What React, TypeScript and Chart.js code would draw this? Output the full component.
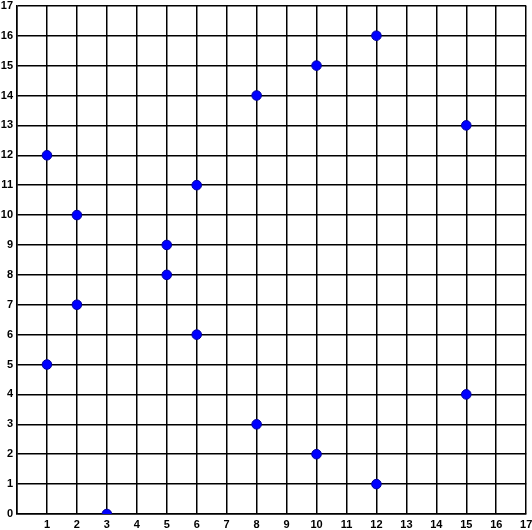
import React, { useEffect, useRef } from "react";
import { Chart, registerables } from "chart.js";

Chart.register(...registerables);

const xValues = [1, 1, 2, 2, 3, 5, 5, 6, 6, 8, 8, 10, 10, 12, 12, 15, 15];
const yValues = [12, 5, 10, 7, 0, 9, 8, 11, 6, 14, 3, 15, 2, 16, 1, 13, 4];
const axisMin = 0;
const axisMax = 17;

export default function App() {
  const ref = useRef<HTMLCanvasElement | null>(null);
  useEffect(() => {
    if (!ref.current) return;
    const data = xValues.map((x, i) => ({ x, y: yValues[i] }));
    const font = { family: "'Liberation Sans', Arial, Helvetica, sans-serif", size: 11, weight: "bold" as const };
    const chart = new Chart(ref.current, {
      type: "scatter",
      data: {
        datasets: [
          {
            data,
            backgroundColor: "#0000ff",
            borderColor: "#0000a0",
            borderWidth: 1,
            pointRadius: 4.8,
          },
        ],
      },
      options: {
        animation: false,
        responsive: false,
        layout: { padding: { top: 4, right: 5, left: 0, bottom: 0 } },
        plugins: { legend: { display: false }, tooltip: { enabled: false } },
        scales: {
          x: {
            type: "linear",
            min: axisMin,
            max: axisMax,
            ticks: {
              stepSize: 1,
              color: "#000",
              font,
              padding: 4,
              maxRotation: 0,
              autoSkip: false,
              callback: (v: any) => (v === 0 ? "" : String(v)),
            },
            grid: { color: "#000", lineWidth: 1.5, drawTicks: false },
            border: { color: "#000", width: 1.5 },
            afterFit: (s: any) => {
              s.height = 16;
              s.paddingLeft = 0;
              s.paddingRight = 0;
            },
          },
          y: {
            type: "linear",
            min: axisMin,
            max: axisMax,
            ticks: {
              stepSize: 1,
              color: "#000",
              font,
              padding: 4,
              autoSkip: false,
            },
            grid: { color: "#000", lineWidth: 1.5, drawTicks: false },
            border: { color: "#000", width: 1.5 },
            afterFit: (s: any) => {
              s.width = 17;
              s.paddingTop = 0;
              s.paddingBottom = 0;
            },
          },
        },
      },
    });
    return () => chart.destroy();
  }, []);
  return (
    <div style={{ position: "absolute", left: 0, top: 0, width: 532, height: 530, background: "#fff" }}>
      <canvas ref={ref} width={532} height={530} style={{ width: 532, height: 530 }} />
    </div>
  );
}
